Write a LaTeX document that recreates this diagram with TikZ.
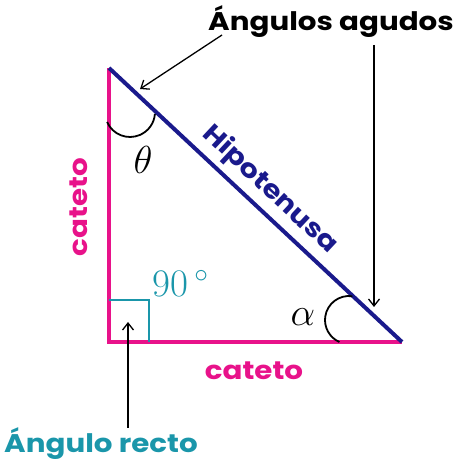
\RequirePackage{fix-cm}
\documentclass[tikz,border=0pt]{standalone}
\usepackage{fontspec}
\newfontfamily\lblfont{Poppins}[FakeStretch=1.15]
\usetikzlibrary{arrows.meta}
\usetikzlibrary{calc}
\definecolor{legmag}{HTML}{E8128A}
\definecolor{hypblue}{HTML}{1A1A8C}
\definecolor{rectteal}{HTML}{1A96AA}
\tikzset{
    leg/.style = {draw=legmag,line width=4.5pt},
    hyp/.style = {draw=hypblue,line width=4pt},
    anglemark/.style = {line width=1.8pt},
    rightmark/.style = {draw=rectteal,line width=2pt},
    pointer/.style = {line width=1.3pt,-{Straight Barb[length=7pt,width=11pt]}},
    lbl/.style = {font=\lblfont\bfseries\fontsize{25.5}{30}\selectfont,inner sep=0},
    mathlbl/.style = {font=\fontsize{39}{44}\selectfont,inner sep=0}
}

\begin{document}
\begin{tikzpicture}[x=1pt,y=1pt]
        \useasboundingbox (0,0) rectangle (460,460);
        % Vertices
        \coordinate (top) at (109,392);
        \coordinate (rgt) at (109,118);
        \coordinate (acu) at (402,118);
        \coordinate (mid) at ($(top)!0.5!(acu)$);
        % Sides
        \draw[leg] (top) -- (rgt) -- (acu);
        \draw[hyp] (top) -- (acu);
        % Angle marks
        \draw[anglemark] (130,348) ++(203.5:25) arc[start angle=203.5,end angle=355.4,radius=25];
        \draw[anglemark] (349,140) ++(82:24) arc[start angle=82,end angle=246.4,radius=24];
        \draw[rightmark] (109,160) -- (149,160) -- (149,118);
        % Labels
        \node[mathlbl] (theta) at (143,300) {$\theta$};
        \node[mathlbl] (alpha) at (303,143) {$\alpha$};
        \node[mathlbl,text=rectteal,anchor=base west] (deg) at (152,163) {$90\,^\circ$};
        \node[lbl,text=hypblue,rotate=-43.1,anchor=base] (hypo)
            at ($(mid)!14pt!90:(acu)$) {Hipotenusa};
        \node[lbl,text=legmag,rotate=90,anchor=base] (catv) at (87,253) {cateto};
        \node[lbl,text=legmag,anchor=base] (cath) at (254,80) {cateto};
        \node[lbl,anchor=base] (agudos) at (331,429) {Ángulos agudos};
        \node[lbl,text=rectteal,anchor=base] (recto) at (101,8) {Ángulo recto};
        % Pointers
        \coordinate (tailA) at (222,425);
        \coordinate (tipA) at (140,371);
        \coordinate (tailB) at (374,415);
        \coordinate (tipB) at (374,153);
        \coordinate (tailC) at (128,32);
        \coordinate (tipC) at (128,138);
        \foreach \src/\dest in {tailA/tipA,tailB/tipB,tailC/tipC}
            \draw[pointer] (\src) -- (\dest);
\end{tikzpicture}
\end{document}
